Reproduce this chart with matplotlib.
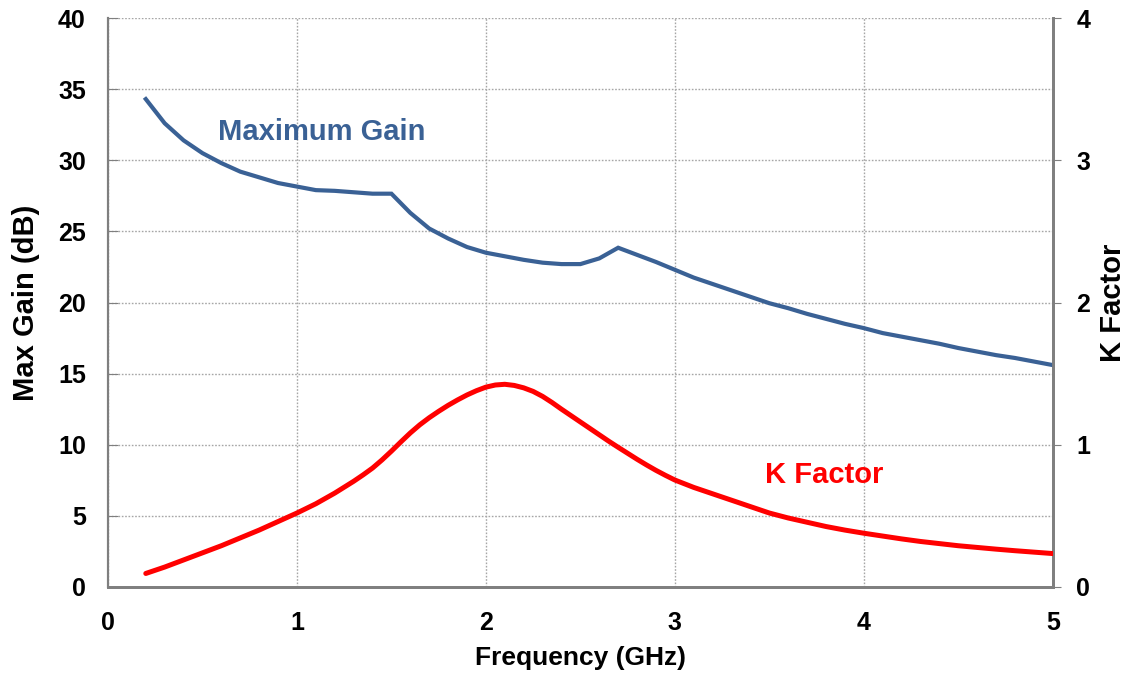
import matplotlib
matplotlib.use("Agg")
import matplotlib.pyplot as plt

freq = [0.2, 0.3, 0.4, 0.5, 0.6, 0.7, 0.8, 0.9, 1.0, 1.1, 1.2, 1.3, 1.4, 1.5, 1.6, 1.7, 1.8, 1.9,
        2.0, 2.1, 2.2, 2.3, 2.4, 2.5, 2.6, 2.7, 2.8, 2.9, 3.0, 3.1, 3.2, 3.3, 3.4, 3.5, 3.6, 3.7,
        3.8, 3.9, 4.0, 4.1, 4.2, 4.3, 4.4, 4.5, 4.6, 4.7, 4.8, 4.9, 5.0]
max_gain = [34.3, 32.6, 31.4, 30.5, 29.8, 29.2, 28.8, 28.4, 28.15, 27.9, 27.85, 27.75, 27.65, 27.65,
            26.3, 25.2, 24.5, 23.9, 23.5, 23.25, 23.0, 22.8, 22.7, 22.7, 23.1, 23.85, 23.35, 22.85,
            22.3, 21.75, 21.3, 20.85, 20.4, 19.95, 19.6, 19.2, 18.85, 18.5, 18.2, 17.85, 17.6,
            17.35, 17.1, 16.8, 16.55, 16.3, 16.1, 15.85, 15.6]

k_freq = [0.2, 0.3, 0.4, 0.5, 0.6, 0.7, 0.8, 0.9, 1.0, 1.1, 1.2, 1.3, 1.35, 1.4, 1.45, 1.5, 1.55,
          1.6, 1.65, 1.7, 1.75, 1.8, 1.85, 1.9, 1.95, 2.0, 2.05, 2.1, 2.15, 2.2, 2.25, 2.3, 2.35,
          2.4, 2.45, 2.5, 2.55, 2.6, 2.65, 2.7, 2.75, 2.8, 2.85, 2.9, 2.95, 3.0, 3.1, 3.2, 3.3,
          3.4, 3.5, 3.6, 3.7, 3.8, 3.9, 4.0, 4.1, 4.2, 4.3, 4.4, 4.5, 4.6, 4.7, 4.8, 4.9, 5.0]
k_factor = [0.095, 0.14, 0.19, 0.24, 0.29, 0.345, 0.40, 0.46, 0.52, 0.585, 0.66, 0.743, 0.788,
            0.836, 0.893, 0.955, 1.02, 1.083, 1.14, 1.19, 1.235, 1.277, 1.315, 1.35, 1.38, 1.405,
            1.42, 1.425, 1.417, 1.40, 1.375, 1.34, 1.297, 1.25, 1.205, 1.16, 1.115, 1.07, 1.025,
            0.982, 0.94, 0.898, 0.858, 0.82, 0.785, 0.752, 0.70, 0.655, 0.61, 0.565, 0.52, 0.485,
            0.455, 0.425, 0.40, 0.378, 0.358, 0.338, 0.32, 0.305, 0.29, 0.278, 0.266, 0.255,
            0.245, 0.235]

x_ticks = [0, 1, 2, 3, 4, 5]
y_ticks = [0, 5, 10, 15, 20, 25, 30, 35, 40]
k_ticks = [0, 1, 2, 3, 4]

plt.rcParams['font.family'] = ['Liberation Sans', 'DejaVu Sans']
plt.rcParams['font.weight'] = 'bold'

fig = plt.figure(figsize=(11.32, 6.75), dpi=100)
ax = fig.add_axes([0.0954, 0.1304, 0.8346, 0.8429])
ax2 = ax.twinx()

blue = '#3A6195'
red = '#FF0000'
spine_c = '#7F7F7F'

ax.plot(freq, max_gain, color=blue, lw=3.0, solid_joinstyle='miter', zorder=3)
ax2.plot(k_freq, k_factor, color=red, lw=3.6, solid_capstyle='round',
         solid_joinstyle='round', zorder=3)

ax.set_xlim(0, 5)
ax.set_ylim(0, 40)
ax2.set_ylim(0, 4)
ax.set_xticks(x_ticks)
ax.set_yticks(y_ticks)
ax2.set_yticks(k_ticks)
ax.set_xticklabels([str(v) for v in x_ticks], fontsize=18, fontweight='bold')
ax.set_yticklabels([str(v) for v in y_ticks], fontsize=18, fontweight='bold')
ax2.set_yticklabels([str(v) for v in k_ticks], fontsize=18, fontweight='bold')

ax.grid(True, color='#A6A6A6', linestyle=(0, (1.2, 1.2)), linewidth=1.0)
ax.set_axisbelow(True)

ax.tick_params(axis='y', direction='in', length=7, color=spine_c, pad=16)
ax.tick_params(axis='x', length=0, pad=17)
ax2.tick_params(axis='y', direction='out', length=6, color=spine_c, pad=11)

for a in (ax, ax2):
    a.spines['top'].set_visible(False)
    a.spines['left'].set_color(spine_c)
    a.spines['bottom'].set_color(spine_c)
    a.spines['right'].set_color(spine_c)
    a.spines['left'].set_linewidth(1.5)
    a.spines['bottom'].set_linewidth(2.0)
    a.spines['right'].set_linewidth(2.0)

ax.set_xlabel('Frequency (GHz)', fontsize=19, fontweight='bold', labelpad=8)
ax.set_ylabel('Max Gain (dB)', fontsize=21, fontweight='bold', labelpad=13)
ax2.set_ylabel('K Factor', fontsize=21, fontweight='bold', labelpad=6)

ax.text(1.13, 32.0, 'Maximum Gain', color=blue, fontsize=21, fontweight='bold',
        ha='center', va='center')
ax.text(3.79, 7.9, 'K Factor', color=red, fontsize=21, fontweight='bold',
        ha='center', va='center')

fig.savefig('out.png', dpi=100)
